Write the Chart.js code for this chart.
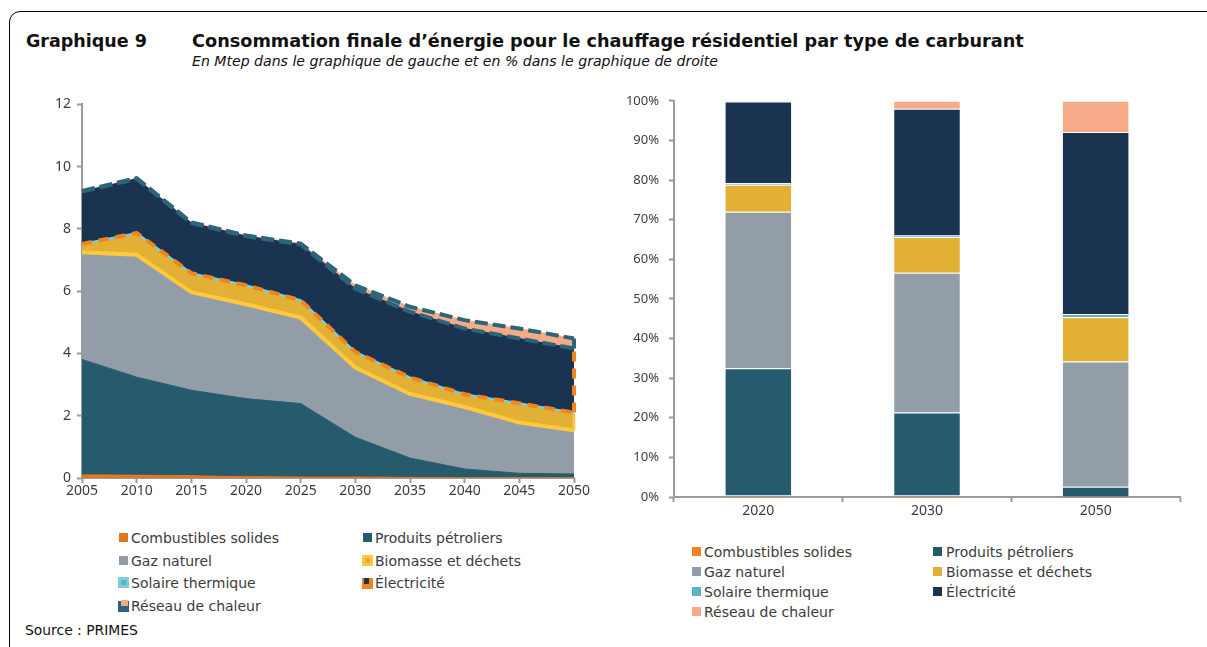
<!DOCTYPE html>
<html><head><meta charset="utf-8">
<script src="https://cdn.jsdelivr.net/npm/chart.js@4.4.0/dist/chart.umd.min.js"></script>
<style>
body{margin:0;width:1207px;height:647px;overflow:hidden;background:#fff;font-family:"DejaVu Sans",sans-serif;position:relative}
#frame{position:absolute;left:9px;top:11px;width:1220px;height:670px;border:1.5px solid #000;border-radius:11px;box-sizing:border-box}
.t{position:absolute;white-space:nowrap;color:#111}
#num{left:26px;top:31px;font-weight:bold;font-size:17.5px}
#title{left:192px;top:31px;font-weight:bold;font-size:17.7px}
#sub{left:192px;top:53px;font-style:italic;font-size:14.1px}
#src{left:25px;top:622px;font-size:13.9px}
.lg{position:absolute;font-size:14px;color:#3b3b3b;white-space:nowrap;line-height:16px}
.bx{position:absolute;box-sizing:border-box}
canvas{position:absolute}
</style></head>
<body>
<div id="frame"></div>
<div class="t" id="num">Graphique 9</div>
<div class="t" id="title">Consommation finale d’énergie pour le chauffage résidentiel par type de carburant</div>
<div class="t" id="sub">En Mtep dans le graphique de gauche et en % dans le graphique de droite</div>
<div class="t" id="src">Source : PRIMES</div>
<canvas id="left" width="580" height="415" style="left:20px;top:90px;width:580px;height:415px"></canvas>
<canvas id="right" width="600" height="437" style="left:600px;top:83px;width:600px;height:437px"></canvas>
<div id="legends"></div>
<script>
// ---- Data ----
const seriesNames = ['Combustibles solides','Produits pétroliers','Gaz naturel','Biomasse et déchets','Solaire thermique','Électricité','Réseau de chaleur'];
const years = ['2005','2010','2015','2020','2025','2030','2035','2040','2045','2050'];
const solides  = [0.10,0.09,0.07,0.04,0.03,0.03,0.02,0.01,0.01,0.01];
const petrole  = [3.71,3.15,2.75,2.51,2.36,1.28,0.62,0.28,0.14,0.12];
const gaz      = [3.44,3.93,3.15,3.03,2.76,2.24,2.06,1.99,1.63,1.40];
const biomasse = [0.22,0.64,0.56,0.57,0.52,0.47,0.49,0.37,0.58,0.53];
const solaire  = [0.05,0.06,0.05,0.04,0.04,0.03,0.04,0.04,0.04,0.04];
const elec     = [1.68,1.74,1.61,1.58,1.79,2.03,2.11,2.11,2.08,2.06];
const reseau   = [0.02,0.02,0.02,0.02,0.03,0.11,0.16,0.27,0.32,0.32];
const leftTicks = [0,2,4,6,8,10,12];

const barCats   = ['2020','2030','2050'];
const pSolides  = [0.4,0.4,0.1];
const pPetrole  = [32.1,20.9,2.5];
const pGaz      = [39.5,35.3,31.6];
const pBio      = [6.8,9.0,11.2];
const pSolaire  = [0.4,0.4,0.8];
const pElec     = [20.6,32.0,45.9];
const pReseau   = [0.2,2.0,7.9];
const rightTicks = [0,10,20,30,40,50,60,70,80,90,100];

// ---- Styles ----
const fillCols = ['#E2771F','#265B6E','#939DA8','#E1B034','#5DB2C3','#1A3350','#F5AA88'];
const legendRight = ['#F5821F','#265B6E','#939DA8','#E1B034','#5DB2C3','#1A3350','#F5AA88'];
const YELLOW_LINE = '#FFC83D', CYAN_LINE = '#7ACFDD', ORANGE_DASH = '#F0841F', TEAL_DASH = '#2D6479';
const tickCol = '#3c3c3c', axisCol = '#9a9a9a';
const tickFont = '"Noto Sans", sans-serif';
Chart.defaults.font.family = tickFont;
Chart.defaults.color = tickCol;

// cumulative stacks
const leftSeries = [solides,petrole,gaz,biomasse,solaire,elec,reseau];
const cum = [];
let acc = years.map(()=>0);
leftSeries.forEach(s=>{ acc = acc.map((v,i)=>+(v+s[i]).toFixed(3)); cum.push(acc); });
const last = years.length-1;
const lastYear = years[last];

const ds = leftSeries.map((s,i)=>({
  label: seriesNames[i], data: cum[i], backgroundColor: fillCols[i], borderColor: fillCols[i],
  borderWidth: 1, pointRadius: 0, tension: 0, fill: i===0 ? 'origin' : i-1, order: 10
}));
function lineDs(data, color, width, dash, order){
  return {data, borderColor: color, borderWidth: width, borderDash: dash||[], pointRadius: 0, fill: false, tension: 0, order, borderCapStyle:'butt'};
}
ds.push(lineDs(cum[2], YELLOW_LINE, 4, null, 5));
ds.push(lineDs([{x:lastYear,y:cum[2][last]},{x:lastYear,y:cum[3][last]}], YELLOW_LINE, 3, null, 5));
ds.push(lineDs(cum[4], CYAN_LINE, 2, null, 4));
ds.push(lineDs(cum[4], ORANGE_DASH, 4, [10,7], 3));
ds.push(lineDs([{x:lastYear,y:cum[4][last]},{x:lastYear,y:cum[5][last]}], ORANGE_DASH, 4, [10,7], 3));
ds.push(lineDs(cum[5], TEAL_DASH, 4, [13,5], 1));
ds.push(lineDs(cum[6], TEAL_DASH, 4, [13,5], 1));
ds.push(lineDs([{x:lastYear,y:cum[5][last]},{x:lastYear,y:cum[6][last]}], TEAL_DASH, 4, [13,5], 1));

new Chart(document.getElementById('left'), {
  type: 'line',
  data: { labels: years, datasets: ds },
  options: {
    responsive: false, animation: false, devicePixelRatio: 1,
    layout: { padding: { top: 0, right: 26, left: 0, bottom: 0 } },
    plugins: { legend: { display: false }, tooltip: { enabled: false } },
    scales: {
      x: {
        type: 'category',
        grid: { drawOnChartArea: false, drawTicks: true, tickLength: 5, tickColor: axisCol, tickWidth: 2 },
        border: { color: axisCol, width: 2 },
        ticks: { font: { size: 14 }, color: tickCol, padding: 0, maxRotation: 0, autoSkip: false },
        afterFit: s => { s.height = 27; }
      },
      y: {
        min: 0, max: 12,
        afterBuildTicks: s => { s.ticks = leftTicks.map(v=>({value:v})); },
        grid: { drawOnChartArea: false, drawTicks: true, tickLength: 5, tickColor: axisCol, tickWidth: 2 },
        border: { color: axisCol, width: 2 },
        ticks: { font: { size: 14 }, color: tickCol, padding: 6 },
        afterFit: s => { s.width = 62; }
      }
    }
  }
});

const rightSeries = [pSolides,pPetrole,pGaz,pBio,pSolaire,pElec,pReseau];
new Chart(document.getElementById('right'), {
  type: 'bar',
  data: { labels: barCats, datasets: rightSeries.map((s,i)=>({
    label: seriesNames[i], data: s, backgroundColor: legendRight[i],
    borderColor: 'rgba(255,255,255,0.45)', borderWidth: 1,
    barPercentage: 0.4, categoryPercentage: 1.0
  })) },
  options: {
    responsive: false, animation: false, devicePixelRatio: 1,
    layout: { padding: { top: 0, right: 20, left: 0, bottom: 0 } },
    plugins: { legend: { display: false }, tooltip: { enabled: false } },
    scales: {
      x: {
        stacked: true,
        grid: { drawOnChartArea: false, drawTicks: true, tickLength: 5, tickColor: axisCol, tickWidth: 2 },
        border: { color: axisCol, width: 2 },
        ticks: { font: { size: 14 }, color: tickCol, padding: 1 },
        afterFit: s => { s.height = 23; }
      },
      y: {
        stacked: true, min: 0, max: 100,
        afterBuildTicks: s => { s.ticks = rightTicks.map(v=>({value:v})); },
        grid: { drawOnChartArea: false, drawTicks: true, tickLength: 5, tickColor: axisCol, tickWidth: 2 },
        border: { color: axisCol, width: 2 },
        ticks: { font: { size: 13 }, color: tickCol, padding: 10, callback: v => v + '%' },
        afterFit: s => { s.width = 74; }
      }
    }
  }
});

// ---- HTML legends ----
const L = document.getElementById('legends');
function addItem(x, cy, boxHtml, textX, text){
  const d = document.createElement('div');
  d.className = 'lg';
  d.style.left = textX + 'px'; d.style.top = (cy - 8) + 'px';
  d.textContent = text;
  L.appendChild(d);
  const b = document.createElement('div');
  b.style.position = 'absolute'; b.style.left = x + 'px'; b.style.top = (cy - 5) + 'px';
  b.innerHTML = boxHtml;
  L.appendChild(b);
}
function sq(x,y,w,h,c){ return `<div class="bx" style="left:${x}px;top:${y}px;width:${w}px;height:${h}px;background:${c}"></div>`; }
const leftIcons = [
  sq(0,0,9,9,fillCols[0]),
  sq(0,0,9,9,fillCols[1]),
  sq(0,0,9,9,fillCols[2]),
  sq(-1,-1,11,11,YELLOW_LINE) + sq(2,2,5,5,fillCols[3]),
  sq(-1,-1,11,11,CYAN_LINE) + sq(2,2,5,5,fillCols[4]),
  sq(-1,0,11,11,ORANGE_DASH) + sq(1,0,5,6,fillCols[5]),
  sq(-1,0,11,11,TEAL_DASH) + sq(2,-1,7,6,fillCols[6])
];
const lRows = [538,561,583,606];
for (let i=0;i<7;i++){
  const col = i%2, row = Math.floor(i/2);
  const bx = col ? 363 : 119, tx = col ? 375 : 131;
  addItem(bx, lRows[row], leftIcons[i], tx, seriesNames[i]);
}
const rRows = [552,572,592,612];
for (let i=0;i<7;i++){
  const col = i%2, row = Math.floor(i/2);
  const bx = col ? 933 : 692, tx = col ? 946 : 704;
  addItem(bx, rRows[row], sq(0,0,9,9,legendRight[i]), tx, seriesNames[i]);
}
</script>
</body></html>
